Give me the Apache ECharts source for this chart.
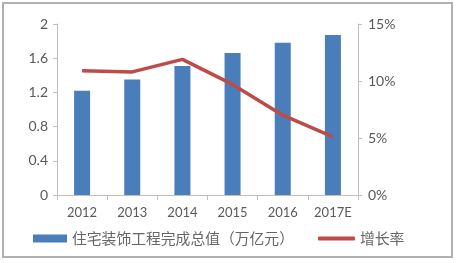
<!DOCTYPE html>
<html>
<head>
<meta charset="utf-8">
<script src="https://cdn.jsdelivr.net/npm/echarts@6/dist/echarts.min.js"></script>
<style>
  html, body { margin: 0; padding: 0; background: #fff; }
  #main { width: 456px; height: 263px; }
</style>
</head>
<body>
<div id="main"></div>
<script>
// 年份
const years = ['2012', '2013', '2014', '2015', '2016', '2017E'];
// 住宅装饰工程完成总值（万亿元）
const totalValue = [1.22, 1.35, 1.51, 1.66, 1.78, 1.87];
// 增长率 (%)
const growthRate = [10.9, 10.8, 11.9, 9.7, 7.0, 5.1];

const barName = '住宅装饰工程完成总值（万亿元）';
const lineName = '增长率';

const axisGray = '#bfbfbf';
const labelGray = '#595959';
const latin = 'Lato';
const cjk = 'Noto Sans CJK SC';

const myChart = echarts.init(document.getElementById('main'));
myChart.setOption({
  animation: false,
  backgroundColor: '#fff',
  graphic: [{
    type: 'rect',
    shape: { x: 3, y: 3, width: 449, height: 254 },
    style: { fill: 'none', stroke: '#b0b0b0', lineWidth: 2 },
    silent: true
  }],
  grid: { left: 57, right: 98, top: 24, bottom: 68 },
  legend: [
    {
      data: [barName],
      left: 28, top: 226,
      icon: 'rect',
      itemWidth: 34, itemHeight: 8, itemGap: 4,
      textStyle: { fontFamily: cjk, fontSize: 14.8, color: '#666' }
    },
    {
      data: [lineName],
      left: 313, top: 226,
      icon: 'roundRect',
      itemWidth: 37, itemHeight: 4,
      textStyle: { fontFamily: cjk, fontSize: 14.8, color: '#666' }
    }
  ],
  xAxis: {
    type: 'category',
    data: years,
    axisLine: { lineStyle: { color: axisGray } },
    axisTick: { show: true, length: 5, lineStyle: { color: axisGray } },
    axisLabel: { fontFamily: latin, fontSize: 13, color: labelGray, margin: 11 }
  },
  yAxis: [
    {
      type: 'value',
      min: 0, max: 2, interval: 0.4,
      axisLine: { show: true, lineStyle: { color: axisGray } },
      axisTick: { show: true, length: 4, lineStyle: { color: axisGray } },
      splitLine: { show: false },
      axisLabel: {
        fontFamily: latin, fontSize: 14, color: labelGray, margin: 9,
        formatter: v => (Math.round(v * 10) / 10).toString()
      }
    },
    {
      type: 'value',
      min: 0, max: 15, interval: 5,
      axisLine: { show: true, lineStyle: { color: axisGray } },
      axisTick: { show: true, length: 4, lineStyle: { color: axisGray } },
      splitLine: { show: false },
      axisLabel: { fontFamily: latin, fontSize: 14, color: labelGray, margin: 10, formatter: '{value}%' }
    }
  ],
  series: [
    {
      name: barName,
      type: 'bar',
      data: totalValue,
      barWidth: 16,
      itemStyle: { color: '#4a7ebb' }
    },
    {
      name: lineName,
      type: 'line',
      yAxisIndex: 1,
      data: growthRate,
      symbol: 'none',
      lineStyle: { color: '#be4b48', width: 3.5 },
      itemStyle: { color: '#be4b48' }
    }
  ]
});
</script>
</body>
</html>
